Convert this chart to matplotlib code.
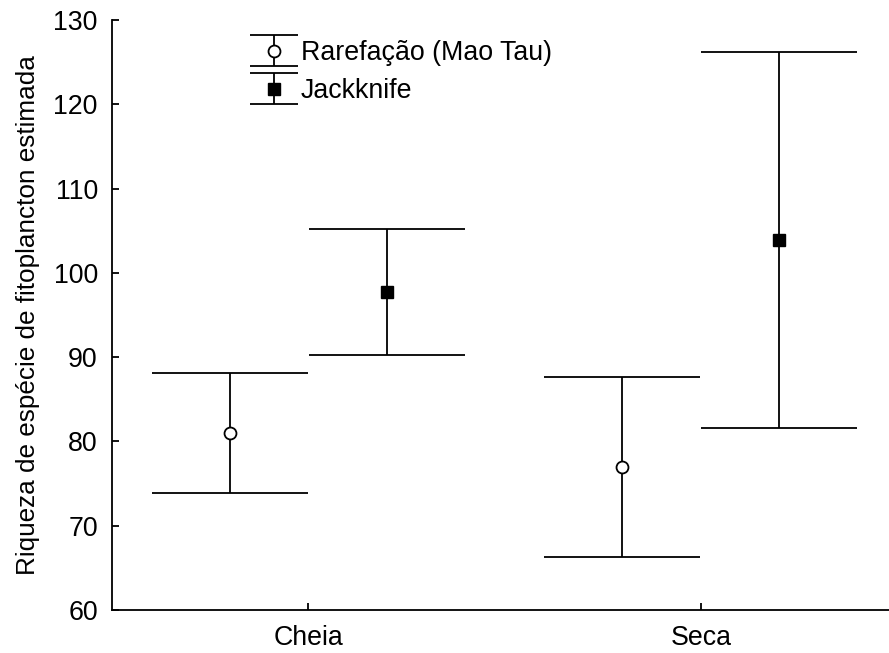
import numpy as np
import matplotlib.pyplot as plt
from matplotlib.container import ErrorbarContainer
from matplotlib.legend_handler import HandlerErrorbar

plt.rcParams['font.family'] = ['Liberation Sans', 'DejaVu Sans']

# periodos hidrologicos
periodos = ["Cheia", "Seca"]

# riqueza estimada e limites (inferior, superior)
rare_media = [81.0, 77.0]
rare_inf = [73.9, 66.3]
rare_sup = [88.1, 87.6]

jack_media = [97.7, 103.9]
jack_inf = [90.2, 81.6]
jack_sup = [105.2, 126.2]

fs = 19.3
lw = 1.3

fig = plt.figure(figsize=(8.89, 6.53), dpi=100)
ax = fig.add_axes([0.1257, 0.0659, 0.8834, 0.9035])

x = np.arange(len(periodos))
desloc = 0.2
capsize = 56.4

rm = np.array(rare_media)
jm = np.array(jack_media)
err_rare = [rm - np.array(rare_inf), np.array(rare_sup) - rm]
err_jack = [jm - np.array(jack_inf), np.array(jack_sup) - jm]

ax.errorbar(x - desloc, rm, yerr=err_rare, fmt='o', color='black',
            mfc='white', mec='black', mew=1.3, ms=8.6,
            ecolor='black', elinewidth=lw, capsize=capsize, capthick=lw)
ax.errorbar(x + desloc, jm, yerr=err_jack, fmt='s', color='black',
            mfc='black', mec='black', ms=9.3,
            ecolor='black', elinewidth=lw, capsize=capsize, capthick=lw)

# handles menores so para a legenda
h_rare = ax.errorbar([np.nan], [np.nan], yerr=[1], fmt='o', color='black',
                     mfc='white', mec='black', mew=1.3, ms=8.6,
                     elinewidth=lw, capsize=17, capthick=lw)
h_jack = ax.errorbar([np.nan], [np.nan], yerr=[1], fmt='s', color='black',
                     mfc='black', ms=9.3,
                     elinewidth=lw, capsize=17, capthick=lw)

ax.legend([h_rare, h_jack], ["Rarefação (Mao Tau)", "Jackknife"],
          loc='upper left', bbox_to_anchor=(0.166, 0.998), frameon=False,
          fontsize=fs, handlelength=1.0, handletextpad=0.5,
          labelspacing=0.45, borderpad=0.2,
          handler_map={ErrorbarContainer: HandlerErrorbar(xerr_size=0.5,
                                                          yerr_size=0.57)})

ax.set_xlim(-0.5, 1.5)
ax.set_ylim(60, 130)
ax.set_yticks(np.arange(60, 131, 10))
ax.set_xticks(x)
ax.set_xticklabels(periodos)
ax.set_ylabel("Riqueza de espécie de fitoplancton estimada", fontsize=18.8,
              labelpad=10)

ax.spines['top'].set_visible(False)
ax.spines['right'].set_visible(False)
for s in ['left', 'bottom']:
    ax.spines[s].set_linewidth(lw)

ax.tick_params(direction='in', length=5, width=lw, labelsize=fs)
ax.tick_params(axis='y', pad=10)
ax.tick_params(axis='x', pad=11)

fig.savefig("out.png", dpi=100)
